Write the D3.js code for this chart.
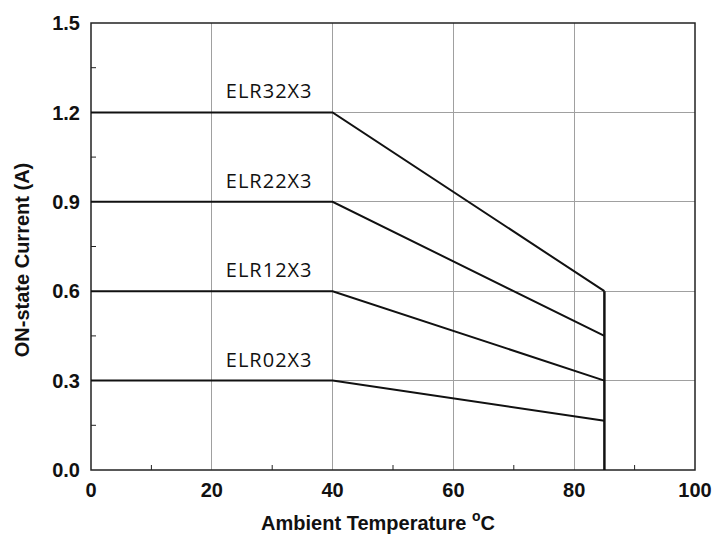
<!DOCTYPE html>
<html>
<head>
    <meta http-equiv="Content-Type" content="text/html;charset=utf-8">
    <title>ON-state current derating</title>
    <script type="text/javascript" src="https://d3js.org/d3.v7.min.js"></script>
    <style>
        html, body { margin: 0; padding: 0; background: #fff; }
        text.tick { font-family: Arial, "Liberation Sans", sans-serif; font-weight: bold; font-size: 20px; fill: #111; }
        text.axisLabel { font-family: Arial, "Liberation Sans", sans-serif; font-weight: bold; font-size: 20px; fill: #111; }
        text.seriesLabel { font-family: "Open Sans", sans-serif; font-size: 20px; letter-spacing: 1px; fill: #111; }
        line.grid { stroke: #a0a0a0; stroke-width: 1px; shape-rendering: crispEdges; }
        path.line { fill: none; stroke: #111; stroke-width: 2px; }
    </style>
</head>
<body>
<script type="text/javascript">

    // temperatures (°C) of the breakpoints
    var temps = [0, 40, 85];
    var seriesNames = ["ELR32X3", "ELR22X3", "ELR12X3", "ELR02X3"];
    var elr32 = [1.2, 1.2, 0.6];
    var elr22 = [0.9, 0.9, 0.45];
    var elr12 = [0.6, 0.6, 0.3];
    var elr02 = [0.3, 0.3, 0.165];
    var cutoffTemp = 85;
    var cutoffTop = 0.6;

    var xTicks = [0, 20, 40, 60, 80, 100];
    var xMinor = [10, 30, 50, 70, 90];
    var yTicks = [0.0, 0.3, 0.6, 0.9, 1.2, 1.5];
    var yMinor = [0.15, 0.45, 0.75, 1.05, 1.35];

    var margin = {top: 23, right: 22, bottom: 67, left: 91};
    var W = 718, H = 537;
    var width = 695 - margin.left, height = 470 - margin.top;

    var x = d3.scaleLinear().domain([0, 100]).range([0, width]);
    var y = d3.scaleLinear().domain([0, 1.5]).range([height, 0]);

    var svg = d3.select("body").append("svg").attr("width", W).attr("height", H);
    var g = svg.append("g").attr("transform", "translate(" + margin.left + "," + margin.top + ")");

    // grid
    g.selectAll(".gx").data(xTicks.slice(1, -1)).enter().append("line")
        .attr("class", "grid").attr("x1", x).attr("x2", x).attr("y1", 0).attr("y2", height);
    g.selectAll(".gy").data(yTicks.slice(1, -1)).enter().append("line")
        .attr("class", "grid").attr("y1", y).attr("y2", y).attr("x1", 0).attr("x2", width);

    // inner minor ticks
    g.selectAll(".mx").data(xMinor).enter().append("line")
        .attr("x1", x).attr("x2", x).attr("y1", height).attr("y2", height - 5)
        .style("stroke", "#222").style("stroke-width", 1);
    g.selectAll(".my").data(yMinor).enter().append("line")
        .attr("y1", y).attr("y2", y).attr("x1", 0).attr("x2", 5)
        .style("stroke", "#222").style("stroke-width", 1);

    // frame
    g.append("rect").attr("width", width).attr("height", height)
        .style("fill", "none").style("stroke", "#222").style("stroke-width", 1.5);

    // tick labels
    g.selectAll(".xt").data(xTicks).enter().append("text")
        .attr("class", "tick").attr("text-anchor", "middle")
        .attr("x", x).attr("y", height + 27).text(function (d) { return d; });
    g.selectAll(".yt").data(yTicks).enter().append("text")
        .attr("class", "tick").attr("text-anchor", "end")
        .attr("x", -11).attr("y", y).attr("dy", "0.36em").text(function (d) { return d.toFixed(1); });

    // data lines
    var seriesData = [elr32, elr22, elr12, elr02];
    var line = d3.line().x(function (d, i) { return x(temps[i]); }).y(function (d) { return y(d); });
    g.selectAll(".line").data(seriesData).enter().append("path")
        .attr("class", "line").attr("d", line);
    g.append("line")
        .attr("x1", x(cutoffTemp)).attr("x2", x(cutoffTemp))
        .attr("y1", y(0)).attr("y2", y(cutoffTop))
        .style("stroke", "#111").style("stroke-width", 2.5);

    // series labels
    g.selectAll(".seriesLabel").data(seriesNames).enter().append("text")
        .attr("class", "seriesLabel").attr("text-anchor", "middle")
        .attr("x", x(29.5))
        .attr("y", function (d, i) { return y(seriesData[i][0]) - 14; })
        .text(function (d) { return d; });

    // axis titles
    var xt = svg.append("text").attr("class", "axisLabel").attr("text-anchor", "middle")
        .attr("x", 378).attr("y", 530);
    xt.append("tspan").text("Ambient Temperature ");
    xt.append("tspan").attr("dy", -9).style("font-size", "14px").text("o");
    xt.append("tspan").attr("dy", 9).text("C");

    svg.append("text").attr("class", "axisLabel").attr("text-anchor", "middle")
        .attr("transform", "translate(29,260) rotate(-90)")
        .text("ON-state Current (A)");
</script>
</body>
</html>
